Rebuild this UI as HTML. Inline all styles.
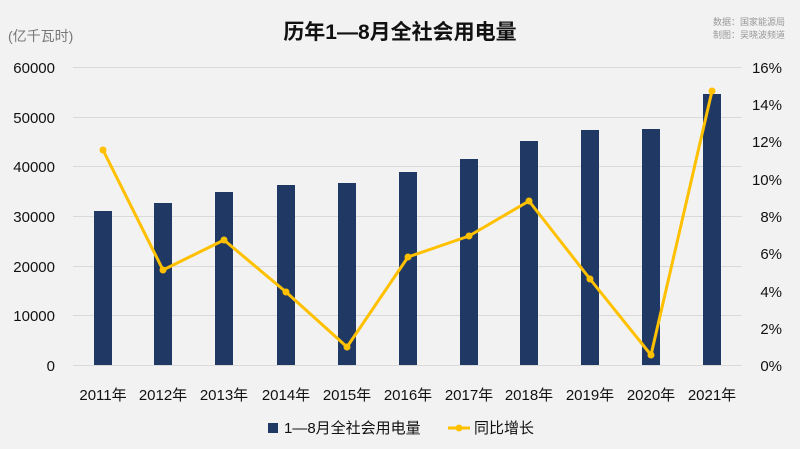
<!DOCTYPE html><html><head><meta charset="utf-8"><style>body{margin:0;background:#f2f2f2}svg{display:block}text{font-family:"Liberation Sans","Noto Sans CJK SC",sans-serif}</style></head><body>
<svg width="800" height="449" viewBox="0 0 800 449">
<rect width="800" height="449" fill="#f2f2f2"/>
<text x="400" y="39" text-anchor="middle" font-size="21" font-weight="bold" fill="#111">历年1—8月全社会用电量</text>
<text x="785" y="25" text-anchor="end" font-size="9" fill="#999">数据：国家能源局</text>
<text x="785" y="38" text-anchor="end" font-size="9" fill="#999">制图：吴晓波频道</text>
<text x="8" y="41" font-size="14" fill="#777">(亿千瓦时)</text>
<g stroke="#d9d9d9" stroke-width="1">
<line x1="73" x2="742" y1="67.5" y2="67.5"/><line x1="73" x2="742" y1="117.5" y2="117.5"/><line x1="73" x2="742" y1="166.5" y2="166.5"/><line x1="73" x2="742" y1="216.5" y2="216.5"/><line x1="73" x2="742" y1="266.5" y2="266.5"/><line x1="73" x2="742" y1="315.5" y2="315.5"/><line x1="73" x2="742" y1="365.5" y2="365.5"/></g>
<g font-size="15" fill="#111" text-anchor="end">
<text x="55" y="73">60000</text><text x="55" y="123">50000</text><text x="55" y="172">40000</text><text x="55" y="222">30000</text><text x="55" y="272">20000</text><text x="55" y="321">10000</text><text x="55" y="371">0</text></g>
<g font-size="15" fill="#111" text-anchor="end">
<text x="782" y="73">16%</text><text x="782" y="110">14%</text><text x="782" y="147">12%</text><text x="782" y="185">10%</text><text x="782" y="222">8%</text><text x="782" y="259">6%</text><text x="782" y="297">4%</text><text x="782" y="334">2%</text><text x="782" y="371">0%</text></g>
<g fill="#1f3864">
<rect x="94" y="211" width="18" height="154"/><rect x="154" y="203" width="18" height="162"/><rect x="215" y="192" width="18" height="173"/><rect x="277" y="185" width="18" height="180"/><rect x="338" y="183" width="18" height="182"/><rect x="399" y="172" width="18" height="193"/><rect x="460" y="159" width="18" height="206"/><rect x="520" y="141" width="18" height="224"/><rect x="581" y="130" width="18" height="235"/><rect x="642" y="129" width="18" height="236"/><rect x="703" y="94" width="18" height="271"/></g>
<polyline fill="none" stroke="#ffc000" stroke-width="3" stroke-linejoin="round" points="103,150 163,270 224,240 286,292 347,347 408,257 469,236 529,201 590,279 651,355 712,91"/>
<g fill="#ffc000"><circle cx="103" cy="150" r="3.5"/><circle cx="163" cy="270" r="3.5"/><circle cx="224" cy="240" r="3.5"/><circle cx="286" cy="292" r="3.5"/><circle cx="347" cy="347" r="3.5"/><circle cx="408" cy="257" r="3.5"/><circle cx="469" cy="236" r="3.5"/><circle cx="529" cy="201" r="3.5"/><circle cx="590" cy="279" r="3.5"/><circle cx="651" cy="355" r="3.5"/><circle cx="712" cy="91" r="3.5"/></g>
<g font-size="15" fill="#111" text-anchor="middle">
<text x="103" y="400">2011年</text><text x="163" y="400">2012年</text><text x="224" y="400">2013年</text><text x="286" y="400">2014年</text><text x="347" y="400">2015年</text><text x="408" y="400">2016年</text><text x="469" y="400">2017年</text><text x="529" y="400">2018年</text><text x="590" y="400">2019年</text><text x="651" y="400">2020年</text><text x="712" y="400">2021年</text></g>
<rect x="268" y="423" width="10" height="10" fill="#1f3864"/>
<text x="284" y="433" font-size="15" fill="#111">1—8月全社会用电量</text>
<line x1="448" x2="470" y1="428" y2="428" stroke="#ffc000" stroke-width="3"/><circle cx="459" cy="428" r="3.5" fill="#ffc000"/>
<text x="474" y="433" font-size="15" fill="#111">同比增长</text>
</svg></body></html>
